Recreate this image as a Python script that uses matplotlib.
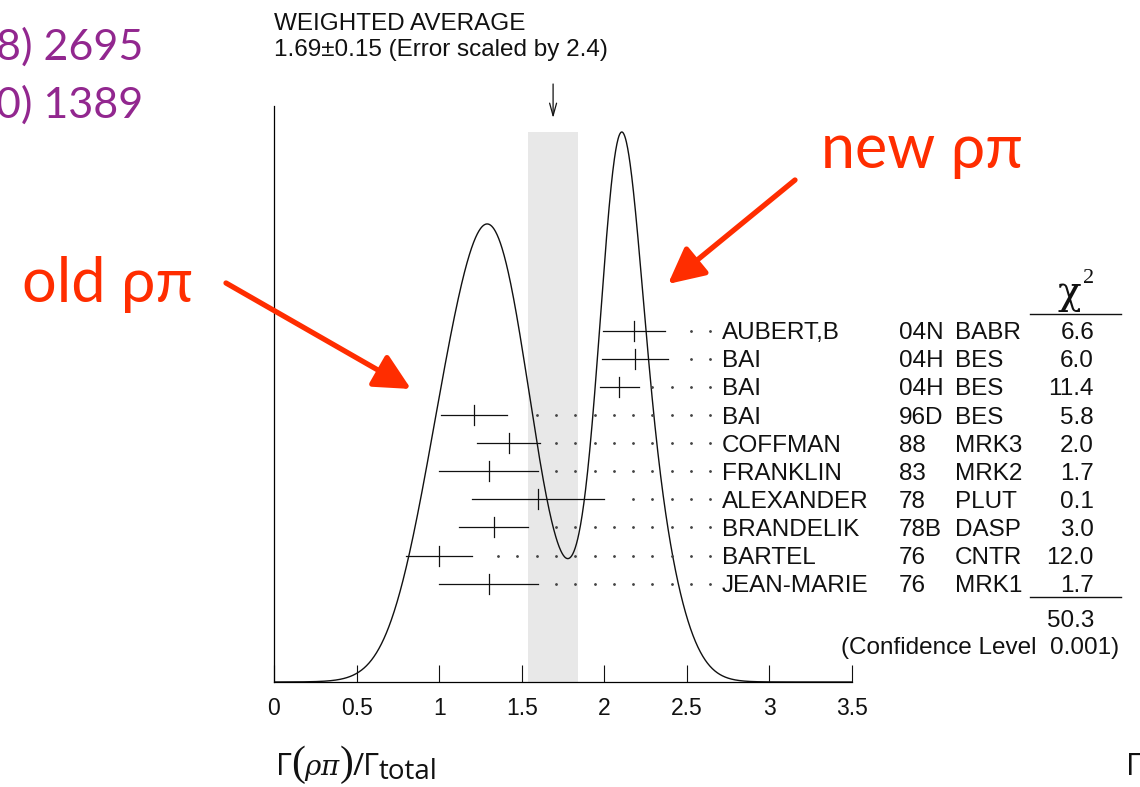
import numpy as np
import matplotlib
matplotlib.use("Agg")
import matplotlib.pyplot as plt
from matplotlib.transforms import blended_transform_factory

plt.rcParams["font.family"] = ["Liberation Sans", "DejaVu Sans"]
plt.rcParams["mathtext.fontset"] = "custom"
plt.rcParams["mathtext.rm"] = "Open Sans"
plt.rcParams["mathtext.it"] = "DejaVu Serif:italic"

# ---- measurements (Gamma(rho pi)/Gamma_total, units 1e-2) ----
names = ["AUBERT,B", "BAI", "BAI", "BAI", "COFFMAN", "FRANKLIN",
         "ALEXANDER", "BRANDELIK", "BARTEL", "JEAN-MARIE"]
years = ["04N", "04H", "04H", "96D", "88", "83", "78", "78B", "76", "76"]
expts = ["BABR", "BES", "BES", "BES", "MRK3", "MRK2", "PLUT", "DASP", "CNTR", "MRK1"]
values = [2.18, 2.184, 2.09, 1.21, 1.42, 1.30, 1.60, 1.33, 1.00, 1.30]
errors = [0.19, 0.20, 0.118, 0.20, 0.19, 0.30, 0.40, 0.21, 0.20, 0.30]
chi2 = ["6.6", "6.0", "11.4", "5.8", "2.0", "1.7", "0.1", "3.0", "12.0", "1.7"]
chi2_total = "50.3"
conf_level = "0.001"
wavg, wavg_err, err_scale = 1.69, 0.15, 2.4
xticks = [0, 0.5, 1, 1.5, 2, 2.5, 3, 3.5]

INK = "#111111"
RED = "#ff2d00"
PURPLE = "#92278f"
BAND = "#e8e8e8"
FS = 17.5

W, H = 1140, 787
fig = plt.figure(figsize=(W / 100, H / 100), dpi=100)
ax = fig.add_axes([274 / W, 1 - 682 / H, 578 / W, 576 / H])
pix = fig.add_axes([0, 0, 1, 1], zorder=3)
pix.patch.set_visible(False)
pix.axis("off")
row_tf = blended_transform_factory(ax.transData, pix.transData)

# ideogram: each measurement a Gaussian of area ~ 1/sigma
x = np.linspace(0, 3.5, 1400)
v = np.array(values)[:, None]
e = np.array(errors)[:, None]
ideo = (np.exp(-0.5 * ((x - v) / e) ** 2) / e ** 2).sum(axis=0)
top = ideo.max()

ax.bar(wavg, top, width=2 * wavg_err, color=BAND, zorder=0)
ax.plot(x, ideo, color=INK, lw=1.0)
ax.set_xlim(0, 3.5)
ax.set_ylim(0, top * 576 / 550)
ax.set_xticks(xticks)
ax.set_xticklabels([f"{t:g}" for t in xticks])
ax.set_yticks([])
ax.tick_params(axis="x", direction="in", length=12, width=0.8, pad=11,
               labelsize=16.5, colors=INK)
for s in ["top", "right"]:
    ax.spines[s].set_visible(False)
for s in ["left", "bottom"]:
    ax.spines[s].set_linewidth(0.9)

# rows: error bars, leader dots, table
ROW0, DY = 330.7, 28.1
DOT_END, DOT_STEP = 2.641, 0.1167
for i, (val, err) in enumerate(zip(values, errors)):
    y = ROW0 + DY * i
    pix.plot([val - err, val + err], [y, y], color=INK, lw=0.9, transform=row_tf)
    pix.plot([val, val], [y - 10, y + 10], color=INK, lw=0.9, transform=row_tf)
    dots = DOT_END - DOT_STEP * np.arange(30)
    dots = dots[dots > val + err + 0.065]
    pix.plot(dots, np.full(len(dots), y), ls="none", marker="o", ms=1.0,
             color="#444444", transform=row_tf)
    yb = y + 8.5
    pix.text(722, yb, names[i], fontsize=FS, va="baseline", color=INK)
    pix.text(899, yb, years[i], fontsize=FS, va="baseline", color=INK)
    pix.text(955, yb, expts[i], fontsize=FS, va="baseline", color=INK)
    pix.text(1094, yb, chi2[i], fontsize=FS, va="baseline", ha="right", color=INK)

pix.text(1058, 304, "χ", fontsize=28, family="DejaVu Serif", va="baseline", color=INK)
pix.text(1083, 283, "2", fontsize=16, family="Liberation Serif", va="baseline", color=INK)
pix.plot([1030, 1121], [314, 314], color=INK, lw=1.0)
pix.plot([1030, 1121], [597, 597], color=INK, lw=1.0)
pix.text(1094, 627, chi2_total, fontsize=FS, va="baseline", ha="right", color=INK)
pix.text(1119, 654, f"(Confidence Level  {conf_level})", fontsize=FS,
         va="baseline", ha="right", color=INK)

# weighted average header and arrow
pix.text(274, 30, "WEIGHTED AVERAGE", fontsize=FS, va="baseline", color=INK)
pix.text(274, 56, f"{wavg:.2f}\u00b1{wavg_err:.2f} (Error scaled by {err_scale})",
         fontsize=FS, va="baseline", color=INK)
pix.annotate("", xy=(wavg, 118), xytext=(wavg, 84), xycoords=row_tf,
             textcoords=row_tf, annotation_clip=False,
             arrowprops=dict(arrowstyle="->,head_length=0.9,head_width=0.25",
                             color=INK, lw=0.9, shrinkA=0, shrinkB=0))

# slide annotations
red_font = ["Lato", "Open Sans", "DejaVu Sans"]
pix.text(22, 302, "old ρπ", fontsize=44, color=RED, family=red_font, va="baseline")
pix.text(821, 168, "new ρπ", fontsize=44, color=RED, family=red_font, va="baseline")
for tail, head in [((226, 283), (411, 389)), ((795, 180), (668, 284))]:
    pix.annotate("", xy=head, xytext=tail,
                 arrowprops=dict(arrowstyle="-|>,head_length=1.0,head_width=0.5",
                                 mutation_scale=22, color=RED, lw=3.8,
                                 shrinkA=0, shrinkB=0))
pix.text(-4, 60, "8) 2695", fontsize=31, color=PURPLE, family=red_font, va="baseline")
pix.text(-4, 118, "0) 1389", fontsize=31, color=PURPLE, family=red_font, va="baseline")

# x-axis quantity label, built from pieces so the brackets can be tall
lab_font = ["Open Sans", "DejaVu Sans"]
pix.text(276, 775, "Γ", fontsize=22, family=lab_font, va="baseline", color=INK)
pix.text(291, 765, "(", fontsize=30, family="Liberation Serif", va="center", color=INK)
pix.text(304, 775, r"$\rho\pi$", fontsize=20, va="baseline", color=INK)
pix.text(340, 765, ")", fontsize=30, family="Liberation Serif", va="center", color=INK)
pix.text(353, 775, "/Γ", fontsize=22, family=lab_font, va="baseline", color=INK)
pix.text(379, 779, "total", fontsize=20, family=lab_font, va="baseline", color=INK)
pix.text(1126, 775, "Γ", fontsize=22, family=lab_font, va="baseline", color=INK)

pix.set_xlim(0, W)
pix.set_ylim(H, 0)
fig.savefig("out.png", dpi=100)
